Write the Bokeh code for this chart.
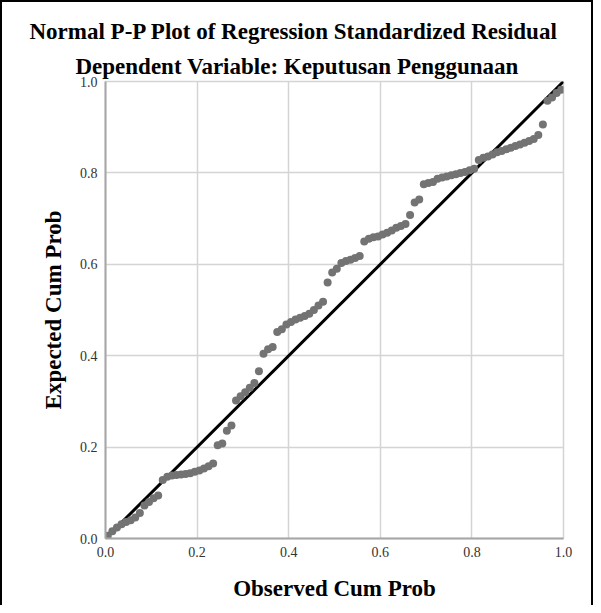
from bokeh.plotting import figure
from bokeh.models import Title, Range1d, FixedTicker
from bokeh.embed import file_html
from bokeh.resources import INLINE

observed_cum_prob = [
    0.005, 0.015, 0.025, 0.035, 0.045, 0.055, 0.065, 0.075, 0.085, 0.095,
    0.105, 0.115, 0.125, 0.135, 0.145, 0.155, 0.165, 0.175, 0.185, 0.195,
    0.205, 0.215, 0.225, 0.235, 0.245, 0.255, 0.265, 0.275, 0.285, 0.295,
    0.305, 0.315, 0.325, 0.335, 0.345, 0.355, 0.365, 0.375, 0.385, 0.395,
    0.405, 0.415, 0.425, 0.435, 0.445, 0.455, 0.465, 0.475, 0.485, 0.495,
    0.505, 0.515, 0.525, 0.535, 0.545, 0.555, 0.565, 0.575, 0.585, 0.595,
    0.605, 0.615, 0.625, 0.635, 0.645, 0.655, 0.665, 0.675, 0.685, 0.695,
    0.705, 0.715, 0.725, 0.735, 0.745, 0.755, 0.765, 0.775, 0.785, 0.795,
    0.805, 0.815, 0.825, 0.835, 0.845, 0.855, 0.865, 0.875, 0.885, 0.895,
    0.905, 0.915, 0.925, 0.935, 0.945, 0.955, 0.965, 0.975, 0.985, 0.995,
]
expected_cum_prob = [
    0.006, 0.016, 0.024, 0.031, 0.036, 0.040, 0.046, 0.056, 0.072, 0.080,
    0.088, 0.094, 0.128, 0.135, 0.138, 0.139, 0.140, 0.141, 0.143, 0.146,
    0.149, 0.153, 0.158, 0.164, 0.204, 0.208, 0.236, 0.247, 0.302, 0.311,
    0.320, 0.330, 0.340, 0.366, 0.404, 0.414, 0.419, 0.452, 0.458, 0.468,
    0.474, 0.479, 0.483, 0.487, 0.492, 0.500, 0.510, 0.518, 0.560, 0.582,
    0.590, 0.603, 0.607, 0.610, 0.614, 0.618, 0.650, 0.656, 0.659, 0.661,
    0.665, 0.669, 0.674, 0.680, 0.684, 0.688, 0.708, 0.735, 0.742, 0.775,
    0.778, 0.780, 0.787, 0.790, 0.792, 0.795, 0.797, 0.800, 0.802, 0.806,
    0.809, 0.828, 0.833, 0.836, 0.840, 0.845, 0.848, 0.852, 0.855, 0.859,
    0.862, 0.866, 0.870, 0.874, 0.883, 0.906, 0.958, 0.965, 0.975, 0.982,
]
reference_line = [0.0, 1.0]
tick_values = [0.0, 0.2, 0.4, 0.6, 0.8, 1.0]
tick_labels = ["0.0", "0.2", "0.4", "0.6", "0.8", "1.0"]

title_line1 = "Normal P-P Plot of Regression Standardized Residual"
title_line2 = "Dependent Variable: Keputusan Penggunaan"
x_label = "Observed Cum Prob"
y_label = "Expected Cum Prob"

SERIF = "Liberation Serif"

p = figure(
    width=593, height=605,
    output_backend="svg", toolbar_location=None,
    x_range=Range1d(0, 1), y_range=Range1d(0, 1),
    min_border_left=105, min_border_right=30,
    min_border_top=81, min_border_bottom=67,
    background_fill_color="white",
    border_fill_color=None,
    styles={
        "background-color": "white",
        "box-shadow": "inset 2px 2px 0 0 #000000, inset -2px 0 0 0 #000000",
    },
)
p.title.text = ""
p.title.visible = False

t2 = Title(text=title_line2, align="left", offset=-30,
           text_font=SERIF, text_font_size="23px", text_font_style="bold",
           text_color="black", standoff=5)
t1 = Title(text=title_line1, align="left", offset=-76,
           text_font=SERIF, text_font_size="23px", text_font_style="bold",
           text_color="black", standoff=11)
p.add_layout(t2, "above")
p.add_layout(t1, "above")

p.line(reference_line, reference_line, line_color="black", line_width=3)
p.scatter(observed_cum_prob, expected_cum_prob, size=8,
          fill_color="#737373", line_color=None)

for ax in (p.xaxis[0], p.yaxis[0]):
    ax.ticker = FixedTicker(ticks=tick_values)
    ax.major_label_overrides = dict(zip(tick_values, tick_labels))
    ax.major_tick_line_color = None
    ax.minor_tick_line_color = None
    ax.axis_line_color = "#a6a6a6"
    ax.axis_line_width = 2
    ax.major_label_text_font = SERIF
    ax.major_label_text_font_size = "14px"
    ax.major_label_text_color = "#333333"
    ax.axis_label_text_font = SERIF
    ax.axis_label_text_font_size = "23px"
    ax.axis_label_text_font_style = "bold"
    ax.axis_label_text_color = "black"

p.xaxis[0].axis_label = x_label
p.yaxis[0].axis_label = y_label
p.xaxis[0].major_label_standoff = 2
p.yaxis[0].major_label_standoff = 2
p.xaxis[0].axis_label_standoff = 16
p.yaxis[0].axis_label_standoff = 11

p.xgrid.ticker = FixedTicker(ticks=tick_values)
p.ygrid.ticker = FixedTicker(ticks=tick_values)
p.grid.grid_line_color = "#d4d4d4"
p.grid.grid_line_width = 1.5
p.outline_line_color = "#d4d4d4"
p.outline_line_width = 1.5

open("out.html", "w").write(file_html(p, INLINE))
